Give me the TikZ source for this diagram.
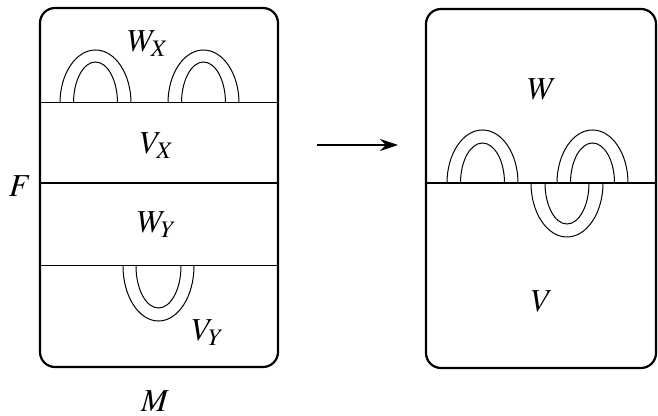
\documentclass[tikz,border=0pt]{standalone}
\usepackage{amsmath}
\usepackage{mathptmx}
\usetikzlibrary{arrows.meta}

\begin{document}
\begin{tikzpicture}[x=0.5pt,y=0.5pt,font=\fontsize{16}{19}\selectfont,
    box/.style={line width=1.1pt,rounded corners=7.5pt},
    cut/.style={line width=1.1pt},
    thin/.style={line width=0.5pt}]
        \useasboundingbox (0,0) rectangle (658,-416);
        % left manifold M
        \draw[box] (40,-8) rectangle (278,-367);
        \draw[thin] (40,-103) -- (278,-103);
        \draw[cut] (40,-183) -- (278,-183);
        \draw[thin] (40,-266) -- (278,-266);
        \foreach \cx in {95.5,203.5} {
            \draw[thin] (\cx-35.5,-103) arc[start angle=180,end angle=0,x radius=35.5,y radius=53];
            \draw[thin] (\cx-22,-103) arc[start angle=180,end angle=0,x radius=22,y radius=41];
        }
        \draw[thin] (123,-266) arc[start angle=180,end angle=360,x radius=35.5,y radius=55];
        \draw[thin] (136,-266) arc[start angle=180,end angle=360,x radius=22.5,y radius=42];
        \node (wx) at (148,-44) {$W_X$};
        \node (vx) at (157,-146) {$V_X$};
        \node (wy) at (157,-225) {$W_Y$};
        \node (vy) at (208,-333) {$V_Y$};
        \node (f) at (20,-186) {$F$};
        \node (m) at (155,-401) {$M$};
        % arrow
        \coordinate (a1) at (317,-145);
        \coordinate (a2) at (398,-145);
        \draw[line width=1.1pt,-{Stealth[length=9pt,width=6pt]}] (a1) -- (a2);
        % right manifold
        \draw[box] (426,-9) rectangle (656,-368);
        \draw[cut] (426,-183) -- (656,-183);
        \foreach \cx in {482.5,592.5} {
            \draw[thin] (\cx-35.5,-183) arc[start angle=180,end angle=0,x radius=35.5,y radius=53];
            \draw[thin] (\cx-22,-183) arc[start angle=180,end angle=0,x radius=22,y radius=40];
        }
        \draw[thin] (531,-183) arc[start angle=180,end angle=360,x radius=36,y radius=54];
        \draw[thin] (545,-183) arc[start angle=180,end angle=360,x radius=22,y radius=41];
        \node (w) at (542,-89) {$W$};
        \node (v) at (542,-301) {$V$};
    \end{tikzpicture}
\end{document}
